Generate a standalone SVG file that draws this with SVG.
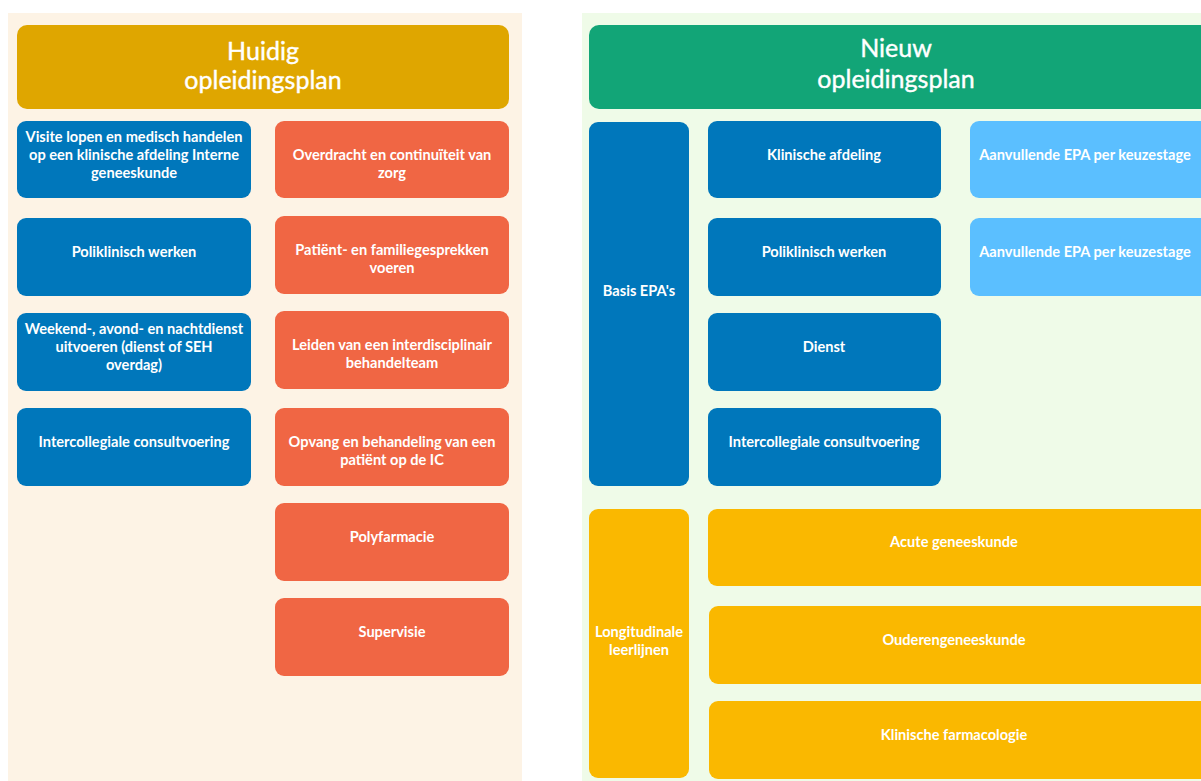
<svg xmlns="http://www.w3.org/2000/svg" width="1201" height="781" viewBox="0 0 1201 781">
<style>
.t{font-family:Lato,"Open Sans","Liberation Sans",sans-serif;font-weight:bold;font-size:14.6px;fill:#ffffff;text-anchor:middle}
.h{font-family:Lato,"Open Sans","Liberation Sans",sans-serif;font-size:25px;fill:#ffffff;text-anchor:middle;stroke:#ffffff;stroke-width:0.4}
.blue{fill:#0077bb}.orange{fill:#f06644}.lblue{fill:#5bbfff}.yellow{fill:#fab800}
</style>
<rect width="1201" height="781" fill="#ffffff"/>
<g id="panel-left">
<rect x="8" y="13" width="514" height="768" fill="#fdf3e5"/>
</g>
<g id="panel-right">
<rect x="582" y="13" width="619" height="768" fill="#effbe8"/>
</g>
<g id="header-huidig">
<rect x="17" y="25" width="492" height="84" rx="10" fill="#dfa600"/>
<text class="h" x="263" y="60">Huidig</text>
<text class="h" x="263" y="89">opleidingsplan</text>
</g>
<g id="header-nieuw">
<rect x="589" y="25" width="625" height="84" rx="10" fill="#12a577"/>
<text class="h" x="896" y="57">Nieuw</text>
<text class="h" x="896" y="88">opleidingsplan</text>
</g>
<g id="l-visite"><rect class="blue" x="17" y="121" width="234" height="77" rx="9"/>
<text class="t" x="134" y="142">Visite lopen en medisch handelen</text><text class="t" x="134" y="160">op een klinische afdeling Interne</text><text class="t" x="134" y="178">geneeskunde</text></g>
<g id="l-poli"><rect class="blue" x="17" y="218" width="234" height="78" rx="9"/>
<text class="t" x="134" y="257">Poliklinisch werken</text></g>
<g id="l-weekend"><rect class="blue" x="17" y="313" width="234" height="78" rx="9"/>
<text class="t" x="134" y="334">Weekend-, avond- en nachtdienst</text><text class="t" x="134" y="352">uitvoeren (dienst of SEH</text><text class="t" x="134" y="370">overdag)</text></g>
<g id="l-intercol"><rect class="blue" x="17" y="408" width="234" height="78" rx="9"/>
<text class="t" x="134" y="447">Intercollegiale consultvoering</text></g>
<g id="l-overdracht"><rect class="orange" x="275" y="121" width="234" height="77" rx="9"/>
<text class="t" x="392" y="160">Overdracht en continuïteit van</text><text class="t" x="392" y="178">zorg</text></g>
<g id="l-patient"><rect class="orange" x="275" y="216" width="234" height="78" rx="9"/>
<text class="t" x="392" y="255">Patiënt- en familiegesprekken</text><text class="t" x="392" y="273">voeren</text></g>
<g id="l-leiden"><rect class="orange" x="275" y="311" width="234" height="78" rx="9"/>
<text class="t" x="392" y="350">Leiden van een interdisciplinair</text><text class="t" x="392" y="368">behandelteam</text></g>
<g id="l-opvang"><rect class="orange" x="275" y="408" width="234" height="78" rx="9"/>
<text class="t" x="392" y="447">Opvang en behandeling van een</text><text class="t" x="392" y="465">patiënt op de IC</text></g>
<g id="l-poly"><rect class="orange" x="275" y="503" width="234" height="78" rx="9"/>
<text class="t" x="392" y="542">Polyfarmacie</text></g>
<g id="l-supervisie"><rect class="orange" x="275" y="598" width="234" height="78" rx="9"/>
<text class="t" x="392" y="637">Supervisie</text></g>
<g id="r-basis"><rect class="blue" x="589" y="122" width="100" height="364" rx="9"/>
<text class="t" x="639" y="296">Basis EPA's</text></g>
<g id="r-klinisch"><rect class="blue" x="708" y="121" width="233" height="77" rx="9"/>
<text class="t" x="824" y="160">Klinische afdeling</text></g>
<g id="r-poli"><rect class="blue" x="708" y="218" width="233" height="78" rx="9"/>
<text class="t" x="824" y="257">Poliklinisch werken</text></g>
<g id="r-dienst"><rect class="blue" x="708" y="313" width="233" height="78" rx="9"/>
<text class="t" x="824" y="352">Dienst</text></g>
<g id="r-intercol"><rect class="blue" x="708" y="408" width="233" height="78" rx="9"/>
<text class="t" x="824" y="447">Intercollegiale consultvoering</text></g>
<g id="r-aanv1"><rect class="lblue" x="970" y="121" width="240" height="77" rx="9"/>
<text class="t" x="1085" y="160">Aanvullende EPA per keuzestage</text></g>
<g id="r-aanv2"><rect class="lblue" x="970" y="218" width="240" height="78" rx="9"/>
<text class="t" x="1085" y="257">Aanvullende EPA per keuzestage</text></g>
<g id="r-longi"><rect class="yellow" x="589" y="509" width="100" height="269" rx="9"/>
<text class="t" x="639" y="637">Longitudinale</text><text class="t" x="639" y="655">leerlijnen</text></g>
<g id="r-acute"><rect class="yellow" x="708" y="509" width="505" height="77" rx="9"/>
<text class="t" x="954" y="547">Acute geneeskunde</text></g>
<g id="r-ouderen"><rect class="yellow" x="709" y="606" width="504" height="78" rx="9"/>
<text class="t" x="954" y="645">Ouderengeneeskunde</text></g>
<g id="r-farma"><rect class="yellow" x="709" y="701" width="504" height="78" rx="9"/>
<text class="t" x="954" y="740">Klinische farmacologie</text></g>
<g id="connectors"></g>
</svg>
